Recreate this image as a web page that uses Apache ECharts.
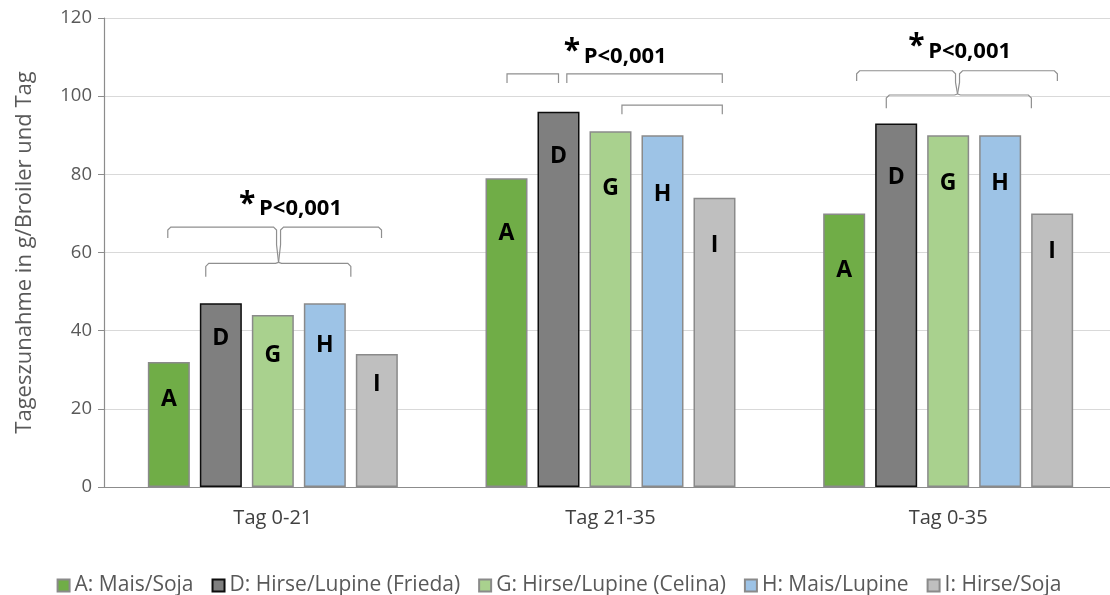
<!DOCTYPE html>
<html>
<head>
<meta charset="utf-8">
<script src="https://cdn.jsdelivr.net/npm/echarts@6/dist/echarts.min.js"></script>
<style>
html,body{margin:0;padding:0;background:#fff;overflow:hidden;width:1110px;height:595px;}
#chart{width:1118px;height:595px;}
</style>
</head>
<body>
<div id="chart"></div>
<script>
// ---- data ----
const categories = ['Tag 0-21', 'Tag 21-35', 'Tag 0-35'];
const seriesNames = ['A: Mais/Soja', 'D: Hirse/Lupine (Frieda)', 'G: Hirse/Lupine (Celina)', 'H: Mais/Lupine', 'I: Hirse/Soja'];
const letters = ['A', 'D', 'G', 'H', 'I'];
const valuesA = [32, 79, 70];
const valuesD = [47, 96, 93];
const valuesG = [44, 91, 90];
const valuesH = [47, 90, 90];
const valuesI = [34, 74, 70];
// height (in data units) where each letter sits inside its bar
const labelAtA = [22.3, 64.9, 55.5];
const labelAtD = [38.1, 84.5, 79.1];
const labelAtG = [33.6, 76.4, 77.8];
const labelAtH = [36.1, 74.9, 77.8];
const labelAtI = [26.3, 61.9, 60.2];
const yTicks = [0, 20, 40, 60, 80, 100, 120];
// brackets: category, slot positions (0 = bar A, 4 = bar I), heights in data units
const simpleBrackets = [
  {cat: 1, from: 0.01, to: 1.0, top: 105.7, end: 103.4},
  {cat: 1, from: 1.16, to: 4.15, top: 105.7, end: 103.4},
  {cat: 1, from: 2.22, to: 4.15, top: 97.7, end: 95.4}
];
const curlyBraces = [
  {cat: 0, from: -0.02, to: 4.09, tip: 2.11, top: 66.5, end: 63.7, from2: 0.71, to2: 3.5, top2: 57.2, end2: 53.8},
  {cat: 2, from: 0.24, to: 4.1, tip: 2.18, top: 106.5, end: 103.9, from2: 0.81, to2: 3.6, top2: 100.3, end2: 96.9}
];
const sigText = 'P<0,001';
const sigPos = [ {cat: 0, slot: 1.35, y: 71.1}, {cat: 1, slot: 1.10, y: 110.1}, {cat: 2, slot: 1.23, y: 111.4} ];

const allValues = [valuesA, valuesD, valuesG, valuesH, valuesI];
const allLabelAt = [labelAtA, labelAtD, labelAtG, labelAtH, labelAtI];
const fills = ['#70AD47', '#7F7F7F', '#A9D18E', '#9DC3E6', '#BFBFBF'];
const borders = ['#8a8a8a', '#0d0d0d', '#8a8a8a', '#8a8a8a', '#8a8a8a'];

const BAR_W = 42, BAR_GAP = 10, PITCH = BAR_W + BAR_GAP;
const FONT = '"Open Sans", "Noto Sans", sans-serif';

const barSeries = seriesNames.map((name, i) => ({
  name: name,
  type: 'bar',
  barWidth: BAR_W,
  barGap: (BAR_GAP / BAR_W * 100).toFixed(1) + '%',
  itemStyle: {color: fills[i], borderColor: borders[i], borderWidth: 1.5},
  emphasis: {disabled: true},
  data: allValues[i].map((v, k) => ({
    value: v,
    label: {
      show: true,
      formatter: letters[i],
      position: ['50%', ((v - allLabelAt[i][k]) / v * 100).toFixed(1) + '%'],
      align: 'center',
      verticalAlign: 'middle',
      fontFamily: FONT,
      fontWeight: 'bold',
      fontSize: 23,
      color: '#000'
    }
  }))
}));

const lineStyle = {stroke: '#8f8f8f', lineWidth: 1.2, fill: null};

const annotSeries = {
  type: 'custom',
  silent: true,
  z: 10,
  data: categories.map((c, i) => [i, 0]),
  renderItem: function (params, api) {
    const cat = api.value(0);
    const cx = api.coord([cat, 0])[0];
    const X = s => cx + (s - 2) * PITCH;
    const Y = v => api.coord([cat, v])[1];
    const children = [];
    simpleBrackets.filter(b => b.cat === cat).forEach(b => {
      children.push({type: 'polyline', shape: {points: [[X(b.from), Y(b.end)], [X(b.from), Y(b.top)], [X(b.to), Y(b.top)], [X(b.to), Y(b.end)]]}, style: lineStyle});
    });
    curlyBraces.filter(b => b.cat === cat).forEach(b => {
      const t = X(b.tip), r = 3;
      const yJ = Y(b.top2) - 1;
      children.push({type: 'polyline', shape: {points: [[X(b.from), Y(b.end)], [X(b.from), Y(b.top) + r], [X(b.from) + r, Y(b.top)], [t - 2 - r, Y(b.top)], [t - 2, Y(b.top) + r], [t - 2, (Y(b.top) + yJ) / 2], [t, yJ]]}, style: lineStyle});
      children.push({type: 'polyline', shape: {points: [[X(b.to), Y(b.end)], [X(b.to), Y(b.top) + r], [X(b.to) - r, Y(b.top)], [t + 2 + r, Y(b.top)], [t + 2, Y(b.top) + r], [t + 2, (Y(b.top) + yJ) / 2], [t, yJ]]}, style: lineStyle});
      children.push({type: 'polyline', shape: {points: [[X(b.from2), Y(b.end2)], [X(b.from2), Y(b.top2) + r], [X(b.from2) + r, Y(b.top2)], [t - r, Y(b.top2)], [t, yJ]]}, style: lineStyle});
      children.push({type: 'polyline', shape: {points: [[X(b.to2), Y(b.end2)], [X(b.to2), Y(b.top2) + r], [X(b.to2) - r, Y(b.top2)], [t + r, Y(b.top2)], [t, yJ]]}, style: lineStyle});
    });
    sigPos.filter(p => p.cat === cat).forEach(p => {
      const sx = X(p.slot), sy = Y(p.y);
      children.push({type: 'text', style: {text: '*', x: sx, y: sy - 5, align: 'left', verticalAlign: 'middle', fontFamily: FONT, fontWeight: 'bold', fontSize: 30, fill: '#000'}});
      children.push({type: 'text', style: {text: sigText, x: sx + 20, y: sy, align: 'left', verticalAlign: 'middle', fontFamily: FONT, fontWeight: 'bold', fontSize: 22, fill: '#000'}});
    });
    return {type: 'group', children: children};
  }
};

const chart = echarts.init(document.getElementById('chart'), null, {renderer: 'canvas'});
chart.setOption({
  animation: false,
  backgroundColor: '#fff',
  textStyle: {fontFamily: FONT},
  grid: {left: 104, right: 1, top: 18, bottom: 108, containLabel: false},
  legend: {
    data: seriesNames,
    top: 570,
    left: 'center',
    icon: 'rect',
    itemWidth: 12,
    itemHeight: 12,
    itemGap: 18,
    textStyle: {fontFamily: FONT, fontSize: 21, color: '#595959', padding: [0, 0, 0, 0]},
    selectedMode: false
  },
  xAxis: {
    type: 'category',
    data: categories,
    axisLine: {lineStyle: {color: '#8c8c8c', width: 1.2}},
    axisTick: {show: false},
    axisLabel: {fontFamily: FONT, fontSize: 20, color: '#404040', margin: 21}
  },
  yAxis: {
    type: 'value',
    min: yTicks[0],
    max: yTicks[yTicks.length - 1],
    interval: yTicks[1] - yTicks[0],
    name: 'Tageszunahme in g/Broiler und Tag',
    nameLocation: 'middle',
    nameGap: 68,
    nameTextStyle: {fontFamily: FONT, fontSize: 22, color: '#595959'},
    axisLine: {show: true, lineStyle: {color: '#8c8c8c', width: 1.2}},
    axisTick: {show: true, length: 6, lineStyle: {color: '#8c8c8c'}},
    axisLabel: {fontFamily: FONT, fontSize: 18.5, color: '#595959', margin: 12},
    splitLine: {lineStyle: {color: '#d9d9d9', width: 1.2}}
  },
  series: barSeries.concat([annotSeries])
});
</script>
</body>
</html>
